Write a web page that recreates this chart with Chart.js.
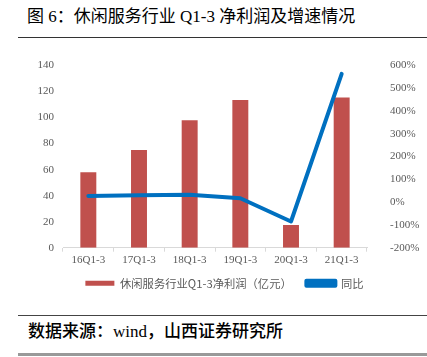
<!DOCTYPE html>
<html><head><meta charset="utf-8">
<script src="https://cdn.jsdelivr.net/npm/chart.js@4.4.0/dist/chart.umd.min.js"></script>
<style>
html,body{margin:0;padding:0;background:#fff;width:427px;height:357px;overflow:hidden;position:relative;}
.t{position:absolute;left:27px;top:5px;font-family:"Liberation Serif","Noto Sans CJK SC";font-size:17px;color:#000;line-height:24px;white-space:nowrap;}
.l1{position:absolute;left:18px;top:37px;width:409px;height:1px;background:#333;}
.l2{position:absolute;left:18px;top:315px;width:409px;height:1px;background:#444;}
.l3{position:absolute;left:18px;top:353px;width:409px;height:3px;background:#999;}
.f{position:absolute;left:28px;top:320px;font-family:"Liberation Serif","Noto Sans CJK SC";font-size:17px;font-weight:500;color:#000;line-height:24px;white-space:nowrap;}
#wrap{position:absolute;left:0;top:45px;width:427px;height:260px;}
</style></head>
<body>
<div class="t">图 6：休闲服务行业 Q1-3 净利润及增速情况</div>
<div class="l1"></div>
<div id="wrap"><canvas id="c" width="427" height="260"></canvas></div>
<div class="l2"></div>
<div class="f">数据来源：wind，山西证券研究所</div>
<div class="l3"></div>
<script>
const categories = ["16Q1-3","17Q1-3","18Q1-3","19Q1-3","20Q1-3","21Q1-3"];
const profit = [58, 75, 98, 113.5, 17.5, 115.5];
const growth = [27, 30, 33, 17, -85, 563];
const leftTicks = {min:0, max:140, step:20};
const rightTicks = {min:-200, max:600, step:100};

const tickFont = {family:"Liberation Serif", size:11, lineHeight:1};
new Chart(document.getElementById('c'), {
  data: {
    labels: categories,
    datasets: [
      {type:'line', label:'同比', data:growth, yAxisID:'y1', borderColor:'#0070C0', backgroundColor:'#0070C0', borderWidth:4, pointRadius:0, tension:0, order:0, borderCapStyle:'round', borderJoinStyle:'round'},
      {type:'bar', label:'休闲服务行业Q1-3净利润（亿元）', data:profit, yAxisID:'y', backgroundColor:'#C0504D', barPercentage:0.63, categoryPercentage:0.5, order:1}
    ]
  },
  options: {
    responsive:false, animation:false,
    layout:{padding:{top:19, bottom:6, left:22, right:0}},
    plugins:{
      legend:{position:'bottom', reverse:true,
        labels:{boxWidth:29, boxHeight:5, padding:9, color:'#595959', font:{family:"Noto Sans CJK SC", size:11.3, lineHeight:1.2},
          generateLabels:(chart)=>{
            const items = Chart.defaults.plugins.legend.labels.generateLabels(chart);
            items.forEach(it=>{ if (it.datasetIndex===1) it.text = it.text + '\u3000'; });
            return items;
          }}},
      tooltip:{enabled:false}
    },
    scales:{
      x:{offset:true, grid:{display:true, offset:true, drawOnChartArea:false, color:'#D9D9D9', tickLength:4}, border:{color:'#D9D9D9'}, ticks:{color:'#595959', font:tickFont, padding:3, maxRotation:0}},
      y:{position:'left', min:leftTicks.min, max:leftTicks.max, ticks:{stepSize:leftTicks.step, color:'#595959', font:tickFont, padding:1}, grid:{display:false}, border:{display:false},
        afterFit:(s)=>{s.width=41;}},
      y1:{position:'right', min:rightTicks.min, max:rightTicks.max, ticks:{stepSize:rightTicks.step, color:'#595959', font:tickFont, padding:15, callback:(v)=>v+'%'}, grid:{display:false}, border:{display:false},
        afterFit:(s)=>{s.width=60;}}
    }
  }
});
</script>
</body></html>
